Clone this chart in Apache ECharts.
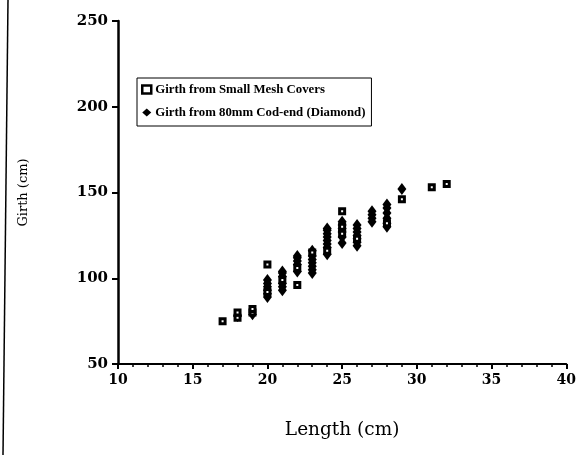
<!DOCTYPE html>
<html>
<head>
<meta charset="utf-8">
<script src="https://cdn.jsdelivr.net/npm/echarts@6/dist/echarts.min.js"></script>
<style>
  html, body { margin: 0; padding: 0; background: #fff; }
  #chart { width: 579px; height: 455px; }
</style>
</head>
<body>
<div id="chart"></div>
<script>
// Girth measurements (cm) by fish length (cm)
const meshLengths = [17, 18, 18, 19, 19, 20, 20, 21, 22, 22, 23, 24, 25, 25, 25, 26, 28, 29, 31, 32];
const meshGirths  = [75, 77, 80, 80, 82, 108, 92, 99, 96, 106, 115, 116, 139, 130, 126, 123, 132, 146, 153, 155];

const codLengths = [18, 19, 20, 20, 20, 20, 20, 20, 21, 21, 21, 21, 21, 21, 22, 22, 22, 22, 22,
                    23, 23, 23, 23, 23, 23, 23, 24, 24, 24, 24, 24, 24, 24, 24, 25, 25, 25, 25, 25, 25,
                    26, 26, 26, 26, 26, 26, 26, 27, 27, 27, 27, 28, 28, 28, 28, 28, 28, 29];
const codGirths  = [78, 79, 89, 91, 93, 95, 97, 99, 93, 95, 97, 101, 103, 104, 104, 108, 110, 112, 113,
                    103, 105, 107, 109, 111, 113, 116, 114, 118, 120, 122, 124, 126, 128, 129, 124, 127, 129, 131, 133, 120.5,
                    119, 121, 123, 125, 127, 129, 131, 133, 135, 137, 139, 130, 132, 135, 138, 141, 143, 152];

const xTicks = [10, 15, 20, 25, 30, 35, 40];
const yTicks = [50, 100, 150, 200, 250];

const meshData = meshLengths.map((l, i) => [l, meshGirths[i]]);
const codData = codLengths.map((l, i) => [l, codGirths[i]]);

const chart = echarts.init(document.getElementById('chart'), null, { renderer: 'canvas' });

const serif = '"DejaVu Serif", "Liberation Serif", serif';
const timesLike = '"Liberation Serif", serif';

chart.setOption({
  animation: false,
  backgroundColor: '#fff',
  grid: { left: 118, right: 9, top: 21, bottom: 91, containLabel: false },
  xAxis: {
    type: 'value',
    min: xTicks[0], max: xTicks[xTicks.length - 1], interval: 5,
    name: 'Length (cm)', nameLocation: 'middle', nameGap: 57,
    nameTextStyle: { fontFamily: serif, fontSize: 18.5, color: '#000' },
    axisLine: { lineStyle: { color: '#000', width: 2 } },
    axisTick: { length: 5, lineStyle: { color: '#000', width: 2 } },
    minorTick: { show: true, splitNumber: 5, length: 3, lineStyle: { color: '#000', width: 1.5 } },
    splitLine: { show: false },
    axisLabel: { fontFamily: serif, fontWeight: 'bold', fontSize: 14, color: '#000', margin: 9 }
  },
  yAxis: {
    type: 'value',
    min: yTicks[0], max: yTicks[yTicks.length - 1], interval: 50,
    name: 'Girth (cm)', nameLocation: 'middle', nameGap: 88, nameRotate: 90,
    nameTextStyle: { fontFamily: serif, fontSize: 13, color: '#000' },
    axisLine: { lineStyle: { color: '#000', width: 2.5 } },
    axisTick: { length: 6, lineStyle: { color: '#000', width: 2 } },
    splitLine: { show: false },
    axisLabel: { fontFamily: serif, fontWeight: 'bold', fontSize: 15, color: '#000', margin: 10 }
  },
  legend: {
    orient: 'vertical',
    left: 137, top: 78,
    padding: [5, 6, 7, 4],
    itemGap: 10,
    itemWidth: 9, itemHeight: 8,
    borderColor: '#000', borderWidth: 1,
    backgroundColor: '#fff',
    textStyle: { fontFamily: timesLike, fontWeight: 'bold', fontSize: 12.8, color: '#000', padding: [0, 0, 0, -1] },
    data: [
      { name: 'Girth from Small Mesh Covers', icon: 'rect', itemStyle: { color: '#fff', borderColor: '#000', borderWidth: 2.5 } },
      { name: 'Girth from 80mm Cod-end (Diamond)', icon: 'diamond' }
    ]
  },
  series: [
    {
      name: 'Girth from 80mm Cod-end (Diamond)',
      type: 'scatter',
      symbol: 'diamond',
      symbolSize: [9, 12],
      itemStyle: { color: '#000', opacity: 1 },
      data: codData
    },
    {
      name: 'Girth from Small Mesh Covers',
      type: 'scatter',
      symbol: 'rect',
      symbolSize: 5,
      itemStyle: { color: '#fff', borderColor: '#000', borderWidth: 3, opacity: 1 },
      data: meshData
    }
  ],
  graphic: [
    {
      type: 'line',
      shape: { x1: 8, y1: 0, x2: 3, y2: 455 },
      style: { stroke: '#000', lineWidth: 1.5 },
      silent: true
    }
  ]
});
</script>
</body>
</html>
